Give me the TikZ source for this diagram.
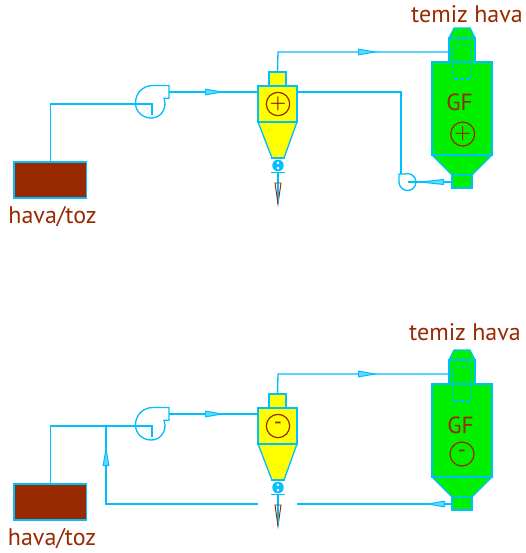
\documentclass[tikz,border=0pt]{standalone}
\usepackage{fontspec}
\setmainfont{PT Sans}
\usetikzlibrary{arrows.meta}

\begin{document}
\begin{tikzpicture}[x=0.75pt,y=-0.75pt]
\definecolor{linecolor}{HTML}{00BFFF}
\definecolor{labelcolor}{HTML}{992900}
\definecolor{gfcolor}{HTML}{00F000}
\definecolor{cyccolor}{HTML}{FFFF00}
\tikzstyle{flow}=[linecolor, line width=1pt]
\tikzstyle{flow-mark}=[linecolor, line width=0.8pt, -{Triangle[length=15pt,width=5pt,fill=linecolor!60]}]
\tikzstyle{flow-long}=[linecolor, line width=0.8pt, -{Triangle[length=21.75pt,width=4.4pt,fill=linecolor!60]}]
\tikzstyle{part}=[rectangle, draw=linecolor, line width=1pt, inner sep=0pt, outer sep=0pt]
\tikzstyle{source}=[part, fill=labelcolor, minimum width=54.4pt, minimum height=27pt]
\tikzstyle{sign}=[circle, draw=labelcolor, line width=0.9pt, inner sep=0pt, minimum width=17.5pt]
\tikzstyle{sign-text}=[text=labelcolor, inner sep=0pt, scale=1.4, font=\boldmath]
\tikzstyle{minus-text}=[text=labelcolor, inner sep=0pt, font=\fontsize{17pt}{18pt}\selectfont]
\tikzstyle{label}=[text=labelcolor, font=\fontsize{18pt}{20pt}\selectfont, inner sep=0pt, anchor=base]
\useasboundingbox (0,0) rectangle (525,553);

% both rows have the same parts, only shifted
\foreach \n/\dy in {A/0,B/322} {
  \node[source] (src\n) at (50.2,180+\dy) {};
  \coordinate (fan\n) at (152,104+\dy);
  \coordinate (fan\n end) at (152,115+\dy);
  \coordinate (fan\n out) at (169,92+\dy);
  \draw[flow] (153,85.5+\dy) -- (169,85.5+\dy) -- (169,98.3+\dy) -- (164,98.3+\dy)
    .. controls (164,99.5+\dy) and (165,101+\dy) .. (165,103+\dy)
    .. controls (165,111+\dy) and (160,118+\dy) .. (151,118+\dy)
    .. controls (143,118+\dy) and (135.5,112+\dy) .. (135.5,103+\dy)
    .. controls (135.5,93+\dy) and (143,85.5+\dy) .. (153,85.5+\dy);

  % cyclone
  \node[part, fill=cyccolor, minimum width=12.75pt, minimum height=10.5pt] (top\n) at (277.5,79+\dy) {};
  \draw[flow, fill=cyccolor] (258,122+\dy) -- (297,122+\dy) -- (284,158+\dy) -- (272,158+\dy) -- cycle;
  \node[part, fill=cyccolor, minimum width=29.25pt, minimum height=27pt] (cyc\n) at (277.5,104+\dy) {};
  \node[part, draw=none, minimum size=0pt] (valve\n) at (278,165.5+\dy) {};
  \coordinate (cyc\n in) at (258,92+\dy);
  \coordinate (cyc\n out) at (297,92+\dy);
  \coordinate (drop\n) at (278,204+\dy);
  \draw[flow] (271,158+\dy) -- (285,158+\dy);
  \draw[flow] (271,172.5+\dy) -- (285,172.5+\dy);
  \draw[flow] (278,172.5+\dy) -- (drop\n);
  \fill[linecolor] (valve\n) circle (4.3pt);
  \fill[white] (278,162.8+\dy) circle (1.1pt) (278,168.2+\dy) circle (1.1pt);
  \draw[labelcolor, line width=0.7pt] (275,183+\dy) -- (281,183+\dy) -- (drop\n) -- cycle;
  \draw[flow, line width=0.7pt] (278,183+\dy) -- (drop\n);

  % bag filter
  \draw[flow, fill=gfcolor] (449,38+\dy) -- (454,28+\dy) -- (470,28+\dy) -- (475,38+\dy) -- cycle;
  \node[part, fill=gfcolor, minimum width=19.5pt, minimum height=18pt] (neck\n) at (462,50+\dy) {};
  \node[part, fill=gfcolor, minimum width=15pt, minimum height=9.75pt] (hop\n) at (462,181.5+\dy) {};
  \draw[flow, fill=gfcolor] (432,155+\dy) -- (492,155+\dy) -- (472,175+\dy) -- (452,175+\dy) -- cycle;
  \node[part, fill=gfcolor, minimum width=45pt, minimum height=69.75pt] (gf\n) at (462,108.5+\dy) {};
  \node[rectangle, draw=linecolor, line width=0.8pt, dash pattern=on 3pt off 1.6pt, inner sep=0pt, minimum width=12.8pt, minimum height=25pt] (bag\n) at (462.2,62.3+\dy) {};
  \coordinate (gf\n in) at (453.5,52+\dy);
}

% top row
\node[label] (txtA) at (52.5,223) {hava/toz};
\node[label] (hvaA) at (467,22) {temiz hava};
\node[label, font=\fontsize{17.5pt}{20pt}\selectfont] (nameA) at (459.5,110) {GF};
\node[sign] (signA) at (278,104) {};
\node[sign, minimum width=18pt] (signGA) at (462.7,134) {};
\node[sign-text] (plusA) at (signA) {$+$};
\node[sign-text] (plusGA) at (signGA) {$+$};

\coordinate (fanC) at (407.5,182);
\coordinate (fanCin) at (401,174);
\coordinate (gfAout) at (452,182);
\coordinate (bendA) at (278,52);
\coordinate (bendB) at (401,92);
\draw[flow] (fanCin) -- (399,174) -- (399,182) arc (180:0:8.5) arc (0:-112:8.5) -- (405,174) -- (fanCin);
\draw[flow] (srcA.north) |- (fanA) -- (fanAend);
\draw[flow] (fanAout) -- (cycAin);
\draw[flow] (topA.north) -- (bendA) -- (gfAin);
\draw[flow] (cycAout) -- (bendB) -- (fanCin);
\draw[flow] (fanC) -- (gfAout);
\draw[flow-mark] (205,92) -- (225,92);
\draw[flow-mark] (358,52) -- (378,52);
\draw[flow-long] (444,182) -- (415,182);

% bottom row
\node[label] (txtB) at (52,545) {hava/toz};
\node[label] (hvaB) at (465,340) {temiz hava};
\node[label, font=\fontsize{17.5pt}{20pt}\selectfont] (nameB) at (460.5,433) {GF};
\node[sign] (signB) at (278,426) {};
\node[sign, minimum width=18pt] (signGB) at (462,454) {};
\node[minus-text] (minusB) at (signB) {-};
\node[minus-text] (minusGB) at (signGB) {-};

\coordinate (bendC) at (278,374);
\coordinate (joinB) at (106,426);
\coordinate (cornerB) at (106,504);
\coordinate (gapL) at (258,504);
\coordinate (gapR) at (297,504);
\coordinate (gfBout) at (452,504);
\draw[flow] (srcB.north) |- (fanB) -- (fanBend);
\draw[flow] (fanBout) -- (cycBin);
\draw[flow] (topB.north) -- (bendC) -- (gfBin);
\draw[flow] (gfBout) -- (gapR);
\draw[flow] (gapL) -- (cornerB) -- (joinB);
\draw[flow-mark] (205,414) -- (225,414);
\draw[flow-mark] (358,374) -- (378,374);
\draw[flow-mark] (444,504) -- (425,504);
\draw[flow-mark] (106,465) -- (106,446);
\end{tikzpicture}
\end{document}
